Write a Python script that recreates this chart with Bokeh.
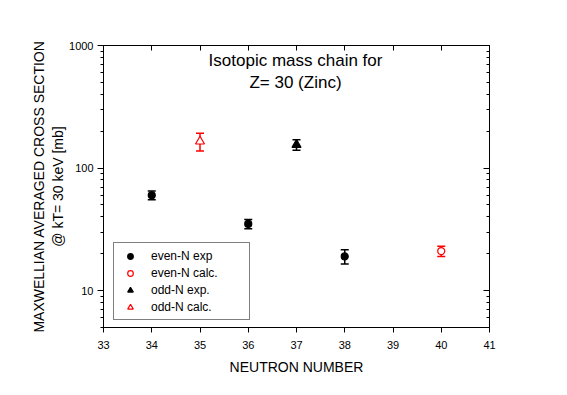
from bokeh.plotting import figure
from bokeh.models import (ColumnDataSource, Whisker, TeeHead, LinearAxis, LogAxis,
                          FixedTicker, Label, Legend, LegendItem, PrintfTickFormatter,
                          CustomJSTickFormatter)
from bokeh.embed import file_html
from bokeh.resources import INLINE

# ---- data ----
even_exp_n = [34, 36, 38]
even_exp_val = [60, 35, 19]
even_exp_err = [5, 3, 2.5]

even_calc_n = [40]
even_calc_val = [21]
even_calc_err = [2]

odd_exp_n = [37]
odd_exp_val = [155]
odd_exp_err = [15]

odd_calc_n = [35]
odd_calc_val = [165]
odd_calc_err = [27]

x_ticks = [33, 34, 35, 36, 37, 38, 39, 40, 41]
y_ticks = [10, 100, 1000]

FONT = "Liberation Sans"

p = figure(width=549, height=377, x_range=(33, 41), y_range=(5, 1000),
           y_axis_type="log", output_backend="svg", toolbar_location=None,
           min_border_left=103, min_border_right=60, min_border_top=45,
           min_border_bottom=48)
p.xgrid.visible = False
p.ygrid.visible = False
p.outline_line_color = "black"
p.outline_line_width = 1
p.background_fill_color = "white"
p.border_fill_color = "white"

y_minor = [m * d for d in (1, 10, 100) for m in range(2, 10)]
y_minor = [v for v in y_minor if 5 <= v <= 1000]

# bottom axis
xa = p.xaxis[0]
xa.ticker = FixedTicker(ticks=x_ticks)
xa.major_label_text_font = FONT
xa.major_label_text_font_size = "11px"
xa.major_label_text_color = "black"
xa.major_tick_out = 5
xa.major_tick_in = 0
xa.minor_tick_out = 0
xa.major_label_standoff = 8
xa.axis_label = "NEUTRON NUMBER"
xa.axis_label_text_font = FONT
xa.axis_label_text_font_size = "14px"
xa.axis_label_text_font_style = "normal"
xa.axis_label_text_color = "black"
xa.axis_label_standoff = 7
xa.axis_line_color = "black"

# left axis
ya = p.yaxis[0]
ya.ticker = FixedTicker(ticks=y_ticks, minor_ticks=y_minor)
ya.formatter = PrintfTickFormatter(format="%d")
ya.major_label_text_font = FONT
ya.major_label_text_font_size = "11px"
ya.major_label_text_color = "black"
ya.major_tick_out = 6
ya.major_tick_in = 0
ya.minor_tick_out = 3
ya.minor_tick_in = 0
ya.major_label_standoff = 4
ya.axis_label = "MAXWELLIAN AVERAGED CROSS SECTION\n@ kT= 30 keV [mb]"
ya.axis_label_text_font = FONT
ya.axis_label_text_font_size = "14px"
ya.axis_label_text_font_style = "normal"
ya.axis_label_text_color = "black"
ya.axis_label_standoff = 0
ya.axis_line_color = "black"

blank = CustomJSTickFormatter(code="return ' '")

# top axis (inward ticks, no labels)
top = LinearAxis(ticker=FixedTicker(ticks=x_ticks), major_tick_in=5, major_tick_out=0,
                 minor_tick_in=0, minor_tick_out=0, formatter=blank,
                 major_label_text_font_size="2px", major_label_text_color=None,
                 major_label_standoff=0, axis_line_color="black")
p.add_layout(top, "above")

# right axis (inward ticks, no labels)
right = LogAxis(ticker=FixedTicker(ticks=y_ticks, minor_ticks=y_minor), major_tick_in=6,
                major_tick_out=0, minor_tick_in=3, minor_tick_out=0, formatter=blank,
                major_label_text_font_size="2px", major_label_text_color=None,
                major_label_standoff=0, axis_line_color="black")
p.add_layout(right, "right")


def add_series(n, val, err, color, marker, fill, size):
    src = ColumnDataSource(dict(x=n, y=val,
                                lo=[v - e for v, e in zip(val, err)],
                                hi=[v + e for v, e in zip(val, err)]))
    w = Whisker(base="x", upper="hi", lower="lo", source=src, line_color=color,
                line_width=1.5,
                upper_head=TeeHead(size=8, line_color=color, line_width=1.5),
                lower_head=TeeHead(size=8, line_color=color, line_width=1.5))
    p.add_layout(w)
    r = p.scatter("x", "y", source=src, marker=marker, size=size,
                  fill_color=fill, line_color=color, line_width=1.2)
    return r


r1 = add_series(even_exp_n, even_exp_val, even_exp_err, "black", "circle", "black", 7)
r2 = add_series(even_calc_n, even_calc_val, even_calc_err, "red", "circle", "white", 7)
r3 = add_series(odd_exp_n, odd_exp_val, odd_exp_err, "black", "triangle", "black", 9)
r4 = add_series(odd_calc_n, odd_calc_val, odd_calc_err, "red", "triangle", "white", 9)

legend = Legend(items=[
    LegendItem(label="even-N exp", renderers=[r1]),
    LegendItem(label="even-N calc.", renderers=[r2]),
    LegendItem(label="odd-N exp.", renderers=[r3]),
    LegendItem(label="odd-N calc.", renderers=[r4]),
], location=(10, 7), border_line_color="black", border_line_width=1,
    background_fill_alpha=1, label_text_font=FONT, label_text_font_size="12px",
    label_text_color="black", label_height=17, glyph_height=14, glyph_width=24,
    label_width=94, spacing=0, padding=4, margin=0, label_standoff=9)
p.add_layout(legend)

p.add_layout(Label(x=192, y=267, x_units="screen", y_units="screen",
                   text="Isotopic mass chain for", text_align="center",
                   text_baseline="middle", text_font=FONT, text_font_size="17px",
                   text_color="black"))
p.add_layout(Label(x=192, y=245, x_units="screen", y_units="screen",
                   text="Z= 30 (Zinc)", text_align="center",
                   text_baseline="middle", text_font=FONT, text_font_size="17px",
                   text_color="black"))

open("out.html", "w").write(file_html(p, INLINE))
